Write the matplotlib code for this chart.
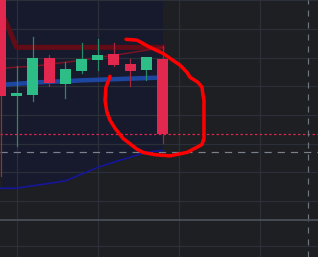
import matplotlib
matplotlib.use("Agg")
import matplotlib.pyplot as plt
from matplotlib.patches import Rectangle

# candles (bar index = position in list)
opens  = [147.0, 106.6, 106.9, 119.8, 110.7, 115.3, 119.1, 121.2, 117.7, 115.6, 119.4]
closes = [106.6, 107.6, 119.8, 111.1, 116.0, 119.4, 120.8, 117.4, 115.3, 120.1, 93.3]
highs  = [150.0, 117.0, 127.1, 120.8, 118.4, 125.0, 126.4, 125.0, 119.4, 120.1, 124.0]
lows   = [78.7, 89.1, 104.8, 110.0, 105.9, 114.6, 115.6, 117.0, 110.0, 112.1, 90.2]

# moving averages
ma_slow = [136.7, 123.6, 123.6, 123.6, 123.6, 123.6, 123.6, 123.6, 123.6, 123.6, 123.6]
ma_red = [116.3, 116.7, 117.0, 117.7, 118.4, 119.1, 120.1, 120.8, 121.7, 122.6, 123.6]
ma_blue = [110.5, 110.9, 111.3, 111.6, 111.8, 112.1, 112.3, 112.5, 112.7, 112.9, 113.1]
ma_navy = [74.5, 74.5, 75.4, 76.2, 77.1, 79.4, 81.8, 83.6, 85.3, 87.0, 87.7]

level_gray = 87.0
cursor_bar = 19

# hand drawn circle (bar, price)
circle_x = [6.76, 6.51, 6.45, 6.57, 6.76, 7.07, 7.56, 8.43, 8.80, 9.54, 10.46, 10.90, 11.51,
            12.13, 12.44, 12.56, 12.56, 12.56, 12.50, 12.44, 12.19, 11.70, 11.51, 11.08,
            10.46, 10.03, 9.23, 8.43, 7.75]
circle_y = [113.5, 109.7, 105.2, 101.0, 98.2, 95.4, 91.9, 88.1, 87.0, 86.2, 85.8, 86.3, 87.0,
            88.8, 89.8, 91.9, 98.2, 105.2, 106.9, 109.7, 111.4, 113.2, 114.9, 117.4,
            119.8, 121.5, 123.6, 126.1, 126.4]

bg = "#1d1f23"
grid = "#2b2f38"
green = "#2dbd86"
red = "#e2284e"
px = 0.72

fig = plt.figure(figsize=(3.18, 2.57), dpi=100, facecolor=bg)
ax = fig.add_axes([0, 37 / 257, 1, 220 / 257])
ax2 = fig.add_axes([0, 0, 1, 37 / 257])

xlim = (-0.5 / 16.2, 317.5 / 16.2)
ax.set_xlim(*xlim)
ax.set_ylim(140.1 - 220 * 10 / 28.7, 140.1)
ax.set_facecolor(bg)

bars = list(range(len(opens)))
ax.fill_between(bars, ma_navy, 140.1, color="#171a2d", lw=0, zorder=0)

ax.set_xticks([1, 6, 11, 16])
ax.set_yticks([140, 130, 120, 110, 100, 90, 80, 70])
ax.grid(True, color=grid, lw=1.2 * px, zorder=0.5)
ax.set_axisbelow(True)
ax.tick_params(left=False, bottom=False, labelleft=False, labelbottom=False)
for s in ax.spines.values():
    s.set_visible(False)

ax.plot(bars, ma_slow, color="#620c17", lw=5 * px, zorder=2)
ax.plot(bars, ma_red, color="#7a1424", lw=1.5 * px, zorder=2)
ax.plot(bars, ma_blue, color="#1d46a0", lw=4.5 * px, zorder=2)
ax.plot(bars, ma_navy, color="#16169c", lw=1.6 * px, zorder=2)

ax.axhline(level_gray, color="#7a818b", lw=1.2 * px, dashes=(6, 5), zorder=1.5)
ax.axhline(closes[-1], color=red, lw=1.2 * px, dashes=(2, 2), zorder=1.5)
ax.axvline(cursor_bar, color="#6f7680", lw=1.2 * px, dashes=(5, 5), zorder=1.5)

w = 11 / 16.2
for i in bars:
    if closes[i] >= opens[i]:
        c, wc = green, "#2a8a66"
    else:
        c, wc = red, "#a52840"
    ax.plot([i, i], [lows[i], highs[i]], color=wc, lw=1.2 * px, zorder=3)
    lo = min(opens[i], closes[i])
    ax.add_patch(Rectangle((i - w / 2, lo), w, abs(closes[i] - opens[i]),
                           facecolor=c, edgecolor="none", zorder=4))

ax.plot(circle_x, circle_y, color="#ff0000", lw=3.5 * px, solid_capstyle="round",
        solid_joinstyle="round", zorder=6)

# lower pane
ax2.set_facecolor(bg)
ax2.set_xlim(*xlim)
ax2.set_ylim(0, 37)
ax2.set_xticks([1, 6, 11, 16])
ax2.set_yticks([11])
ax2.grid(True, color=grid, lw=1.2 * px)
ax2.tick_params(left=False, bottom=False, labelleft=False, labelbottom=False)
for s in ax2.spines.values():
    s.set_visible(False)
ax2.spines["top"].set_visible(True)
ax2.spines["top"].set_color("#4a4e58")
ax2.spines["top"].set_linewidth(1.8 * px)
ax2.axvline(cursor_bar, color="#6f7680", lw=1.2 * px, dashes=(5, 5))

fig.savefig("out.png", dpi=100, facecolor=bg)
